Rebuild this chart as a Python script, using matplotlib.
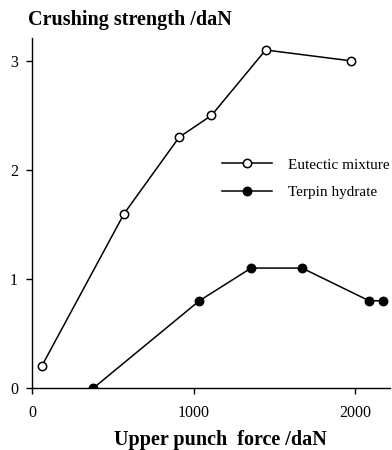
import matplotlib
matplotlib.use("Agg")
import matplotlib.pyplot as plt

# eutectic mixture (open circles)
eut_force = [60, 570, 910, 1110, 1445, 1975]
eut_strength = [0.2, 1.6, 2.3, 2.5, 3.1, 3.0]

# terpin hydrate (filled circles)
ter_force = [380, 1035, 1355, 1670, 2085, 2170]
ter_strength = [0.0, 0.8, 1.1, 1.1, 0.8, 0.8]

xticks = [0, 1000, 2000]
yticks = [0, 1, 2, 3]

plt.rcParams['font.family'] = ['Liberation Serif', 'DejaVu Serif']

fig = plt.figure(figsize=(3.92, 4.5), dpi=100)
ax = fig.add_axes([32/392, 1 - 388/450, 358/392, 350/450])

ax.plot(eut_force, eut_strength, color='black', lw=1.1, marker='o', ms=6,
        mfc='white', mec='black', mew=1.1, label='Eutectic mixture')
ax.plot(ter_force, ter_strength, color='black', lw=1.1, marker='o', ms=6,
        mfc='black', mec='black', mew=1.1, label='Terpin hydrate')

ax.set_xlim(0, 2214)
ax.set_ylim(0, 3.21)
ax.set_xticks(xticks)
ax.set_yticks(yticks)
ax.tick_params(direction='out', length=4, width=1, labelsize=11.5)
ax.tick_params(axis='x', pad=8)
ax.tick_params(axis='y', pad=6)
ax.spines['top'].set_visible(False)
ax.spines['right'].set_visible(False)
for sp in ('left', 'bottom'):
    ax.spines[sp].set_linewidth(1.0)

fig.text(28/392, 1 - 20/450, 'Crushing strength /daN', fontsize=14.5,
         fontweight='bold', ha='left', va='center')
fig.text(220/392, 1 - 440/450, 'Upper punch  force /daN', fontsize=14.5,
         fontweight='bold', ha='center', va='center')

ax.legend(loc='upper left', bbox_to_anchor=(222/392, 1 - 158/450),
          bbox_transform=fig.transFigure, frameon=False, fontsize=11,
          handlelength=3.3, handletextpad=1.0, labelspacing=0.9,
          borderaxespad=0, borderpad=0)

fig.savefig('out.png', dpi=100)
